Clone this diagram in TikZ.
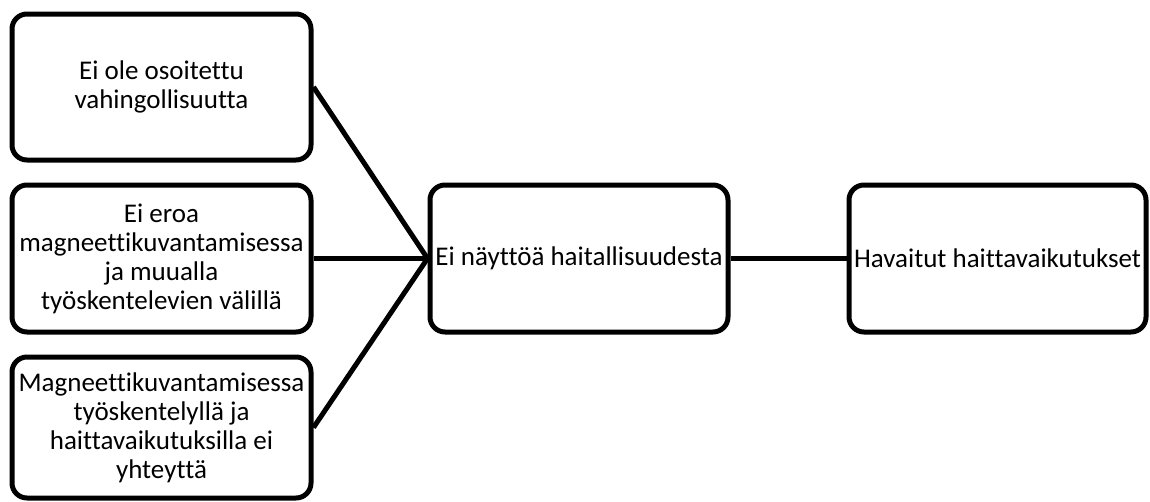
\documentclass[tikz,border=0pt]{standalone}
\usepackage{fontspec}
\setmainfont[Ligatures=NoCommon]{Carlito}
\begin{document}
\begin{tikzpicture}[x=1pt,y=-1pt,
  box/.style={draw=black, line width=5pt, rounded corners=15pt, fill=white,
    align=center, inner sep=0pt, font=\fontsize{27}{29}\selectfont},
  link/.style={draw=black, line width=5pt}]
  \useasboundingbox (0,0) rectangle (1150,501);
  % left column
  \node[box, minimum width=299pt, minimum height=146pt] (b1) at (161.5,87)
    {Ei ole osoitettu\\vahingollisuutta};
  \node[box, minimum width=299pt, minimum height=147pt] (b2) at (161.5,258.5)
    {Ei eroa\\magneettikuvantamisessa\\ja muualla\\työskentelevien välillä};
  \node[box, minimum width=299pt, minimum height=141pt] (b3) at (161.5,427.5)
    {Magneettikuvantamisessa\\työskentelyllä ja\\haittavaikutuksilla ei\\yhteyttä};
  % middle and right
  \node[box, minimum width=298pt, minimum height=147pt] (c) at (579,258.5)
    {Ei näyttöä haitallisuudesta};
  \node[box, minimum width=297pt, minimum height=147pt] (r) at (997.5,258.5)
    {Havaitut haittavaikutukset};
  % connectors
  \draw[link] (b1.east) -- (c.west);
  \draw[link] (b2.east) -- (c.west);
  \draw[link] (b3.east) -- (c.west);
  \draw[link] (c.east) -- (r.west);
\end{tikzpicture}
\end{document}
